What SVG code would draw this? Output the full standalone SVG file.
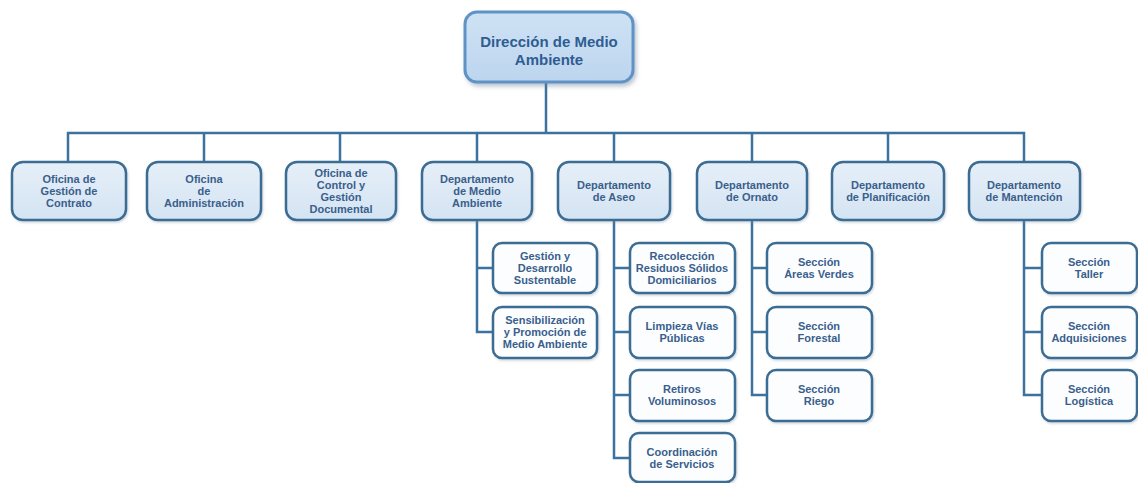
<svg xmlns="http://www.w3.org/2000/svg" width="1138" height="483" viewBox="0 0 1138 483">
  <defs>
    <linearGradient id="gTop" x1="0" y1="0" x2="0" y2="1">
      <stop offset="0" stop-color="#cfe2f4"/>
      <stop offset="1" stop-color="#bcd5ee"/>
    </linearGradient>
    <linearGradient id="gDept" x1="0" y1="0" x2="0" y2="1">
      <stop offset="0" stop-color="#e6eff8"/>
      <stop offset="1" stop-color="#d4e4f3"/>
    </linearGradient>
    <filter id="shadow" x="-10%" y="-10%" width="125%" height="130%">
      <feDropShadow dx="2" dy="3" stdDeviation="2" flood-color="#6b7f95" flood-opacity="0.45"/>
    </filter>
    <filter id="shadowSm" x="-10%" y="-10%" width="125%" height="130%">
      <feDropShadow dx="1" dy="1.5" stdDeviation="1.2" flood-color="#7a8a9c" flood-opacity="0.35"/>
    </filter>
  </defs>
  <style>
    text { font-family: "Liberation Sans", Arial, sans-serif; font-weight: bold; fill: #3a5f8c; text-anchor: middle; }
    .title { font-size: 15px; fill: #2f5d92; }
    .lbl { font-size: 11px; }
    .top { fill: url(#gTop); stroke: #5f93c6; stroke-width: 3; filter: url(#shadow); }
    .dept { fill: url(#gDept); stroke: #3b6c94; stroke-width: 2.5; filter: url(#shadowSm); }
    .sub { fill: #fbfdff; stroke: #3b6c94; stroke-width: 2.5; filter: url(#shadowSm); }
    .conn { fill: none; stroke: #3b72a0; stroke-width: 2.5; }
  </style>
  <rect width="1138" height="483" fill="#ffffff"/>

  <!-- connectors -->
  <g id="connectors" class="conn">
    <path d="M546 82 V133"/>
    <path d="M68 162 V133 H1024 V162"/>
    <path d="M204 133 V162 M340 133 V162 M477 133 V162 M614 133 V162 M752 133 V162 M888 133 V162"/>
    <!-- Departamento de Medio Ambiente -->
    <path d="M477 220 V332 H493 M477 268 H493"/>
    <!-- Departamento de Aseo -->
    <path d="M614 220 V458 H630 M614 268 H630 M614 332 H630 M614 395 H630"/>
    <!-- Departamento de Ornato -->
    <path d="M752 220 V395 H767 M752 268 H767 M752 332 H767"/>
    <!-- Departamento de Mantención -->
    <path d="M1024 220 V395 H1042 M1024 268 H1042 M1024 332 H1042"/>
  </g>

  <!-- top node -->
  <g id="direccion">
    <rect class="top" x="465" y="12" width="168" height="70" rx="12"/>
    <text class="title" x="549" y="47">Dirección de Medio</text>
    <text class="title" x="549" y="65">Ambiente</text>
  </g>

  <!-- second level -->
  <g id="of-gestion-contrato">
    <rect class="dept" x="12" y="162" width="114" height="58" rx="11"/>
    <text class="lbl" x="69" y="183">Oficina de</text>
    <text class="lbl" x="69" y="195">Gestión de</text>
    <text class="lbl" x="69" y="207">Contrato</text>
  </g>
  <g id="of-administracion">
    <rect class="dept" x="147" y="162" width="114" height="58" rx="11"/>
    <text class="lbl" x="204" y="183">Oficina</text>
    <text class="lbl" x="204" y="195">de</text>
    <text class="lbl" x="204" y="207">Administración</text>
  </g>
  <g id="of-control-gestion">
    <rect class="dept" x="286" y="162" width="110" height="58" rx="11"/>
    <text class="lbl" x="341" y="177">Oficina de</text>
    <text class="lbl" x="341" y="189">Control y</text>
    <text class="lbl" x="341" y="201">Gestión</text>
    <text class="lbl" x="341" y="213">Documental</text>
  </g>
  <g id="dep-medio-ambiente">
    <rect class="dept" x="422" y="162" width="110" height="58" rx="11"/>
    <text class="lbl" x="477" y="183">Departamento</text>
    <text class="lbl" x="477" y="195">de Medio</text>
    <text class="lbl" x="477" y="207">Ambiente</text>
  </g>
  <g id="dep-aseo">
    <rect class="dept" x="558" y="162" width="112" height="58" rx="11"/>
    <text class="lbl" x="614" y="189">Departamento</text>
    <text class="lbl" x="614" y="201">de Aseo</text>
  </g>
  <g id="dep-ornato">
    <rect class="dept" x="697" y="162" width="110" height="58" rx="11"/>
    <text class="lbl" x="752" y="189">Departamento</text>
    <text class="lbl" x="752" y="201">de Ornato</text>
  </g>
  <g id="dep-planificacion">
    <rect class="dept" x="832" y="162" width="112" height="58" rx="11"/>
    <text class="lbl" x="888" y="189">Departamento</text>
    <text class="lbl" x="888" y="201">de Planificación</text>
  </g>
  <g id="dep-mantencion">
    <rect class="dept" x="969" y="162" width="111" height="58" rx="11"/>
    <text class="lbl" x="1024" y="189">Departamento</text>
    <text class="lbl" x="1024" y="201">de Mantención</text>
  </g>

  <!-- Medio Ambiente sections -->
  <g id="gestion-desarrollo">
    <rect class="sub" x="493" y="243" width="104" height="50" rx="9"/>
    <text class="lbl" x="545" y="260">Gestión y</text>
    <text class="lbl" x="545" y="272">Desarrollo</text>
    <text class="lbl" x="545" y="284">Sustentable</text>
  </g>
  <g id="sensibilizacion">
    <rect class="sub" x="493" y="307" width="104" height="51" rx="9"/>
    <text class="lbl" x="545" y="324">Sensibilización</text>
    <text class="lbl" x="545" y="336">y Promoción de</text>
    <text class="lbl" x="545" y="348">Medio Ambiente</text>
  </g>

  <!-- Aseo sections -->
  <g id="recoleccion">
    <rect class="sub" x="630" y="243" width="105" height="50" rx="9"/>
    <text class="lbl" x="682" y="260">Recolección</text>
    <text class="lbl" x="682" y="272">Residuos Sólidos</text>
    <text class="lbl" x="682" y="284">Domiciliarios</text>
  </g>
  <g id="limpieza">
    <rect class="sub" x="630" y="307" width="105" height="51" rx="9"/>
    <text class="lbl" x="682" y="330">Limpieza Vías</text>
    <text class="lbl" x="682" y="342">Públicas</text>
  </g>
  <g id="retiros">
    <rect class="sub" x="630" y="370" width="105" height="51" rx="9"/>
    <text class="lbl" x="682" y="393">Retiros</text>
    <text class="lbl" x="682" y="405">Voluminosos</text>
  </g>
  <g id="coordinacion">
    <rect class="sub" x="630" y="433" width="105" height="49" rx="9"/>
    <text class="lbl" x="682" y="456">Coordinación</text>
    <text class="lbl" x="682" y="468">de Servicios</text>
  </g>

  <!-- Ornato sections -->
  <g id="areas-verdes">
    <rect class="sub" x="767" y="243" width="105" height="50" rx="9"/>
    <text class="lbl" x="819" y="266">Sección</text>
    <text class="lbl" x="819" y="278">Áreas Verdes</text>
  </g>
  <g id="forestal">
    <rect class="sub" x="767" y="307" width="105" height="51" rx="9"/>
    <text class="lbl" x="819" y="330">Sección</text>
    <text class="lbl" x="819" y="342">Forestal</text>
  </g>
  <g id="riego">
    <rect class="sub" x="767" y="370" width="105" height="51" rx="9"/>
    <text class="lbl" x="819" y="393">Sección</text>
    <text class="lbl" x="819" y="405">Riego</text>
  </g>

  <!-- Mantención sections -->
  <g id="taller">
    <rect class="sub" x="1042" y="243" width="95" height="50" rx="9"/>
    <text class="lbl" x="1089" y="266">Sección</text>
    <text class="lbl" x="1089" y="278">Taller</text>
  </g>
  <g id="adquisiciones">
    <rect class="sub" x="1042" y="307" width="95" height="51" rx="9"/>
    <text class="lbl" x="1089" y="330">Sección</text>
    <text class="lbl" x="1089" y="342">Adquisiciones</text>
  </g>
  <g id="logistica">
    <rect class="sub" x="1042" y="370" width="95" height="51" rx="9"/>
    <text class="lbl" x="1089" y="393">Sección</text>
    <text class="lbl" x="1089" y="405">Logística</text>
  </g>
</svg>
